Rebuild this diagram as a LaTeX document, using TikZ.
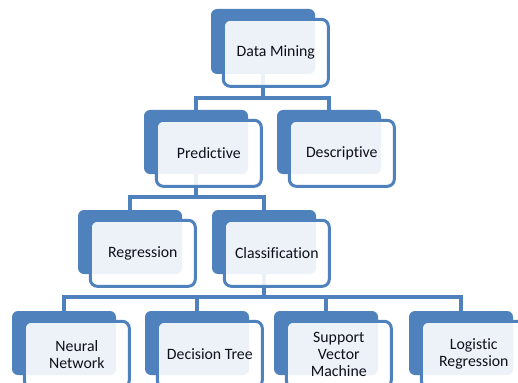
\documentclass[tikz,border=0pt]{standalone}
\usepackage{fontspec}
\setmainfont{Carlito}[Ligatures={NoCommon}]
\usetikzlibrary{backgrounds}
\definecolor{sablue}{RGB}{79,129,189}
\definecolor{txtcol}{RGB}{15,15,25}
\begin{document}
\begin{tikzpicture}[x=1pt,y=-1pt,
  backbox/.style={fill=sablue, rounded corners=6pt, minimum width=104pt, minimum height=64pt, inner sep=0pt, outer sep=0pt, anchor=north west},
  frontbox/.style={draw=sablue, line width=3pt, fill=white, fill opacity=0.9, text opacity=1, rounded corners=7pt, minimum width=105pt, minimum height=66pt, inner sep=0pt, outer sep=0pt, anchor=north west, align=center, text=txtcol, font=\fontsize{15.8}{17}\selectfont},
  conn/.style={draw=sablue, line width=3.2pt}]
\useasboundingbox (0,0) rectangle (518,382);
\clip (0,0) rectangle (518,382);
% back boxes
\node[backbox, minimum height=65pt] (dmB) at (211,9) {};
\node[backbox] (prB) at (144,110) {};
\node[backbox] (deB) at (277,110) {};
\node[backbox] (reB) at (78,210) {};
\node[backbox] (clB) at (212,210) {};
\node[backbox] (nnB) at (12,311) {};
\node[backbox] (dtB) at (145,311) {};
\node[backbox] (svB) at (274,311) {};
\node[backbox] (lrB) at (409,311) {};
% front boxes
\node[frontbox, minimum height=67pt] (dm) at (223.3,19.3) {Data Mining};
\node[frontbox] (pr) at (156.3,120.3) {Predictive};
\node[frontbox] (de) at (289.3,120.3) {Descriptive};
\node[frontbox] (re) at (90.3,220.3) {Regression};
\node[frontbox] (cl) at (224.3,220.3) {Classification};
\node[frontbox] (nn) at (24.3,321.3) {Neural\\Network};
\node[frontbox] (dt) at (157.3,321.3) {Decision Tree};
\node[frontbox] (sv) at (286.3,321.3) {Support\\Vector\\Machine};
\node[frontbox] (lr) at (421.3,321.3) {Logistic\\Regression};
% connectors
\begin{scope}[on background layer]
\draw[conn] (dmB.south) -- (dmB.south |- 0,98) -| (prB.north);
\draw[conn] (dmB.south) -- (dmB.south |- 0,98) -| (deB.north);
\draw[conn] (prB.south) -- (prB.south |- 0,197) -| (reB.north);
\draw[conn] (prB.south) -- (prB.south |- 0,197) -| (clB.north);
\draw[conn] (clB.south) -- (clB.south |- 0,297) -| (nnB.north);
\draw[conn] (clB.south) -- (clB.south |- 0,297) -| (dtB.north);
\draw[conn] (clB.south) -- (clB.south |- 0,297) -| (svB.north);
\draw[conn] (clB.south) -- (clB.south |- 0,297) -| (lrB.north);
\end{scope}
\end{tikzpicture}
\end{document}
